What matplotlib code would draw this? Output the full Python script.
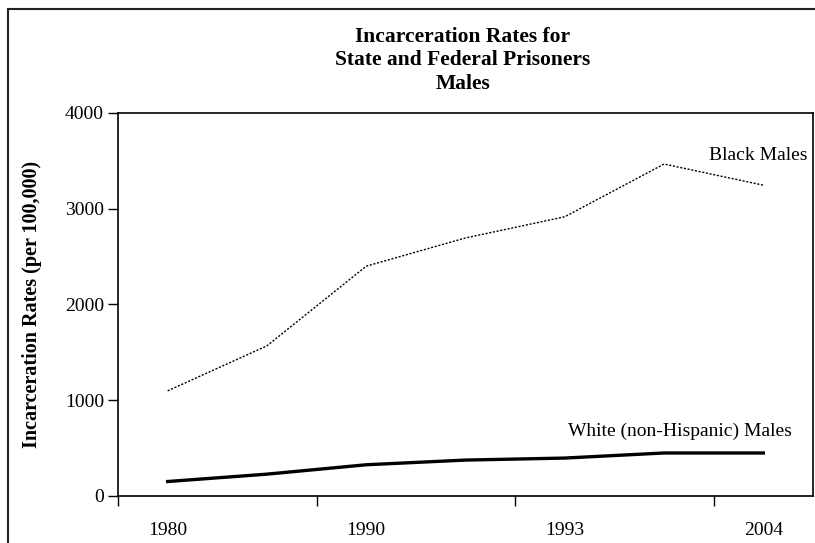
import matplotlib
matplotlib.use("Agg")
import matplotlib.pyplot as plt
from matplotlib.patches import Rectangle
from matplotlib.ticker import FixedLocator, NullFormatter

plt.rcParams['font.family'] = ['Liberation Serif', 'DejaVu Serif']

# 7 data points, every second one labelled (as in the original chart)
year_labels = ['1980', '1990', '1993', '2004']
black_males = [1098, 1568, 2400, 2695, 2916, 3467, 3246]
white_males = [151, 228, 326, 375, 396, 449, 449]

fig = plt.figure(figsize=(8.15, 5.43), dpi=100)
ax = fig.add_axes([0.1448, 0.0866, 0.9975 - 0.1448, 0.7919 - 0.0866])

x = list(range(len(black_males)))
ax.plot(x, black_males, color='black', linestyle=(0, (1.5, 1.2)), linewidth=1.0)
ax.plot(x, white_males, color='black', linestyle='-', linewidth=2.4)

ax.set_xlim(-0.5, len(x) - 0.5)
ax.set_ylim(0, 4000)
ax.set_yticks([0, 1000, 2000, 3000, 4000])

# tick marks between categories, labels on every other category
ax.xaxis.set_major_locator(FixedLocator([-0.5, 1.5, 3.5, 5.5]))
ax.xaxis.set_major_formatter(NullFormatter())
ax.xaxis.set_minor_locator(FixedLocator([0, 2, 4, 6]))
ax.set_xticklabels(year_labels, minor=True)
ax.tick_params(axis='x', which='major', direction='out', length=7, width=1)
ax.tick_params(axis='x', which='minor', length=0, pad=19, labelsize=14)
ax.tick_params(axis='y', direction='out', length=7, width=1, labelsize=14, pad=3)

for s in ax.spines.values():
    s.set_linewidth(1.2)

ax.set_ylabel('Incarceration Rates (per 100,000)', fontsize=14.5, fontweight='bold')
ax.yaxis.set_label_coords(-0.110, 0.5)

ax.text(6.45, 3560, 'Black Males', ha='right', va='center', fontsize=14)
ax.text(6.29, 680, 'White (non-Hispanic) Males', ha='right', va='center', fontsize=14)

fig.text(0.568, 0.889, 'Incarceration Rates for\nState and Federal Prisoners\nMales',
         ha='center', va='center', fontsize=15.5, fontweight='bold', linespacing=1.25)

# outer frame of the chart (cropped at the right and bottom)
fig.patches.append(Rectangle((8 / 815, -0.1), 1.2, 0.1 + (543 - 9) / 543,
                             transform=fig.transFigure, fill=False,
                             edgecolor='#222222', linewidth=1.5))

fig.savefig('out.png', dpi=100)
